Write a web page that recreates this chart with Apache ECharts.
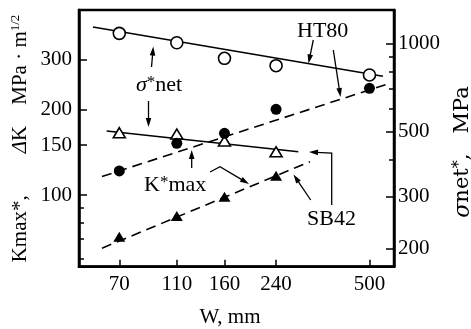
<!DOCTYPE html>
<html><head><meta charset="utf-8">
<script src="https://cdn.jsdelivr.net/npm/echarts@6/dist/echarts.min.js"></script>
<style>html,body{margin:0;padding:0;background:#fff}#c{width:471px;height:329px}</style>
</head><body><div id="c"></div>
<script>
// ---- data ----
const W = [70, 110, 160, 240, 500];
const W_SB = [70, 110, 160, 240];
const htSigma = [1083, 1006, 890, 840, 781];      // HT80 sigma*net (MPa), right axis
const htK = [121.6, 152.1, 164.9, 200.3, 237.4];   // HT80 K*max, left axis
const sbSigma = [496, 491, 465, 427];              // SB42 sigma*net, right axis
const sbK = [71.4, 84.5, 98.7, 117.0];             // SB42 K*max, left axis
// fitted lines (end points)
const htSigmaFitW = [56.9, 556], htSigmaFit = [1138, 773];
const sbSigmaFitW = [63.4, 285.8], sbSigmaFit = [502.6, 427];
const htKFitW = [61.1, 578], htKFit = [116.3, 245.8];
const sbKFitW = [61.1, 313.3], sbKFit = [65.1, 131.1];
// ticks
const xTicks = [70, 110, 160, 240, 500];
const leftTicks = [100, 150, 200, 300];
const leftMinor = [60, 70, 80, 90];
const rightTicks = [200, 300, 500, 1000];
const rightMinor = [400, 600, 700, 800, 900];

const FF = "'Liberation Serif', 'Times New Roman', serif";
const DV = "'DejaVu Serif', serif";
const zip = (a, b) => a.map((v, i) => [v, b[i]]);

function arrow(pts, headLen, headW) {
  headLen = headLen || 9; headW = headW || 2.8;
  const n = pts.length, t = pts[n - 1], p = pts[n - 2];
  const dx = t[0] - p[0], dy = t[1] - p[1], L = Math.hypot(dx, dy);
  const ux = dx / L, uy = dy / L, bx = t[0] - ux * headLen, by = t[1] - uy * headLen;
  const line = pts.slice(0, n - 1).concat([[bx + ux * 2, by + uy * 2]]);
  return [
    { type: 'polyline', shape: { points: line }, style: { stroke: '#000', lineWidth: 1.3, fill: null }, z: 10 },
    { type: 'polygon', shape: { points: [t, [bx - uy * headW, by + ux * headW], [bx + uy * headW, by - ux * headW]] }, style: { fill: '#000' }, z: 10 }
  ];
}

const arrows = [].concat(
  arrow([[151.5, 67], [153.3, 46.5]]),
  arrow([[148.5, 101], [148.5, 127]]),
  arrow([[191.7, 168], [191.7, 150]]),
  arrow([[210, 172], [220, 166.7], [249, 184]]),
  arrow([[313.3, 40], [308.5, 63.5]]),
  arrow([[333.3, 50], [340.5, 97]]),
  arrow([[310.7, 200], [293.5, 174.5]]),
  arrow([[331.7, 205], [331.7, 153], [309, 152]])
);

const txt = (x, y, text, rich, opts) => ({
  type: 'text', x: x, y: y, z: 12,
  style: Object.assign({ text: text, rich: rich, fill: '#000', fontFamily: FF, fontSize: 22, align: 'left', verticalAlign: 'middle' }, opts || {})
});

const supRich = {
  g: { fontSize: 22, fontFamily: FF, fill: '#000', fontStyle: 'italic' },
  n: { fontSize: 22, fontFamily: FF, fill: '#000' },
  s: { fontSize: 17, fontFamily: FF, fill: '#000', verticalAlign: 'top' }
};

const texts = [
  txt(297, 31, 'HT80'),
  txt(136, 85, '{g|σ}{s|*}{n|net}', supRich),
  txt(144, 185, '{n|K}{s|*}{n|max}', supRich),
  txt(307, 219, 'SB42'),
  txt(230, 317, 'W, mm', null, { align: 'center', fontSize: 21 }),
  Object.assign(txt(20, 138.5, '{n|Kmax*,        }{d|Δ}{n|K    MPa · m}{s|1/2}', {
    n: { fontSize: 21, fontFamily: FF, fill: '#000' },
    d: { fontSize: 21, fontFamily: FF, fill: '#000', fontStyle: 'italic' },
    s: { fontSize: 13, fontFamily: FF, fill: '#000', verticalAlign: 'top' }
  }, { align: 'center' }), { rotation: Math.PI / 2 }),
  Object.assign(txt(463, 152, '{g|σ}{n|net}{s|*}{n|,   MPa}', {
    g: { fontSize: 22, fontFamily: DV, fill: '#000', fontStyle: 'italic' },
    n: { fontSize: 21, fontFamily: DV, fill: '#000' },
    s: { fontSize: 16, fontFamily: DV, fill: '#000', verticalAlign: 'top' }
  }, { align: 'center' }), { rotation: Math.PI / 2 })
];

const lbl = { color: '#000', fontFamily: FF, fontSize: 21 };
const chart = echarts.init(document.getElementById('c'), null, { renderer: 'canvas' });
chart.setOption({
  animation: false,
  backgroundColor: '#fff',
  grid: { left: 79, right: 77, top: 10, bottom: 62.3, show: true, borderColor: '#000', borderWidth: 2.5, backgroundColor: 'transparent' },
  xAxis: [{
    type: 'log', logBase: 10, min: 51.0, max: 606.3,
    axisLine: { lineStyle: { color: '#000', width: 2.5 } },
    axisTick: { inside: true, length: 7, customValues: xTicks, lineStyle: { color: '#000', width: 1.5 } },
    axisLabel: Object.assign({ customValues: xTicks, margin: 7, formatter: v => String(v) }, lbl),
    splitLine: { show: false }, minorTick: { show: false }
  }],
  yAxis: [
    {
      type: 'log', logBase: 10, position: 'left', min: 56.05, max: 447.2,
      axisLine: { show: true, lineStyle: { color: '#000', width: 2.5 } },
      axisTick: { show: true, inside: true, length: 8, customValues: leftTicks, lineStyle: { color: '#000', width: 1.5 } },
      axisLabel: Object.assign({ customValues: leftTicks, margin: 7, formatter: v => String(v) }, lbl),
      splitLine: { show: false }
    },
    {
      type: 'log', logBase: 10, position: 'right', min: 173.1, max: 1301,
      axisLine: { show: true, lineStyle: { color: '#000', width: 2.5 } },
      axisTick: { show: true, inside: true, length: 8, customValues: rightTicks, lineStyle: { color: '#000', width: 1.5 } },
      axisLabel: Object.assign({ customValues: rightTicks, margin: 4, formatter: v => String(v) }, lbl),
      splitLine: { show: false }
    },
    {
      type: 'log', logBase: 10, position: 'left', min: 56.05, max: 447.2,
      axisLine: { show: false },
      axisTick: { show: true, inside: true, length: 5, customValues: leftMinor, lineStyle: { color: '#000', width: 1.5 } },
      axisLabel: { show: false }, splitLine: { show: false }
    },
    {
      type: 'log', logBase: 10, position: 'right', min: 173.1, max: 1301,
      axisLine: { show: false },
      axisTick: { show: true, inside: true, length: 5, customValues: rightMinor, lineStyle: { color: '#000', width: 1.5 } },
      axisLabel: { show: false }, splitLine: { show: false }
    }
  ],
  series: [
    { type: 'line', yAxisIndex: 1, data: zip(htSigmaFitW, htSigmaFit), symbol: 'none', silent: true, lineStyle: { color: '#000', width: 1.6 }, z: 2 },
    { type: 'line', yAxisIndex: 1, data: zip(sbSigmaFitW, sbSigmaFit), symbol: 'none', silent: true, lineStyle: { color: '#000', width: 1.6 }, z: 2 },
    { type: 'line', yAxisIndex: 0, data: zip(htKFitW, htKFit), symbol: 'none', silent: true, lineStyle: { color: '#000', width: 1.6, type: [10, 6] }, z: 2 },
    { type: 'line', yAxisIndex: 0, data: zip(sbKFitW, sbKFit), symbol: 'none', silent: true, lineStyle: { color: '#000', width: 1.6, type: [10, 6] }, z: 2 },
    { type: 'scatter', yAxisIndex: 1, data: zip(W, htSigma), symbol: 'circle', symbolSize: 12, itemStyle: { color: '#fff', borderColor: '#000', borderWidth: 1.6, opacity: 1 }, z: 5 },
    { type: 'scatter', yAxisIndex: 1, data: zip(W_SB, sbSigma), symbol: 'triangle', symbolSize: [12, 10], itemStyle: { color: '#fff', borderColor: '#000', borderWidth: 1.6, opacity: 1 }, z: 5 },
    { type: 'scatter', yAxisIndex: 0, data: zip(W, htK), symbol: 'circle', symbolSize: 11, itemStyle: { color: '#000', opacity: 1 }, z: 5 },
    { type: 'scatter', yAxisIndex: 0, data: zip(W_SB, sbK), symbol: 'triangle', symbolSize: [12, 10], itemStyle: { color: '#000', opacity: 1 }, z: 5 }
  ],
  graphic: { elements: arrows.concat(texts) }
});
</script>
</body></html>
